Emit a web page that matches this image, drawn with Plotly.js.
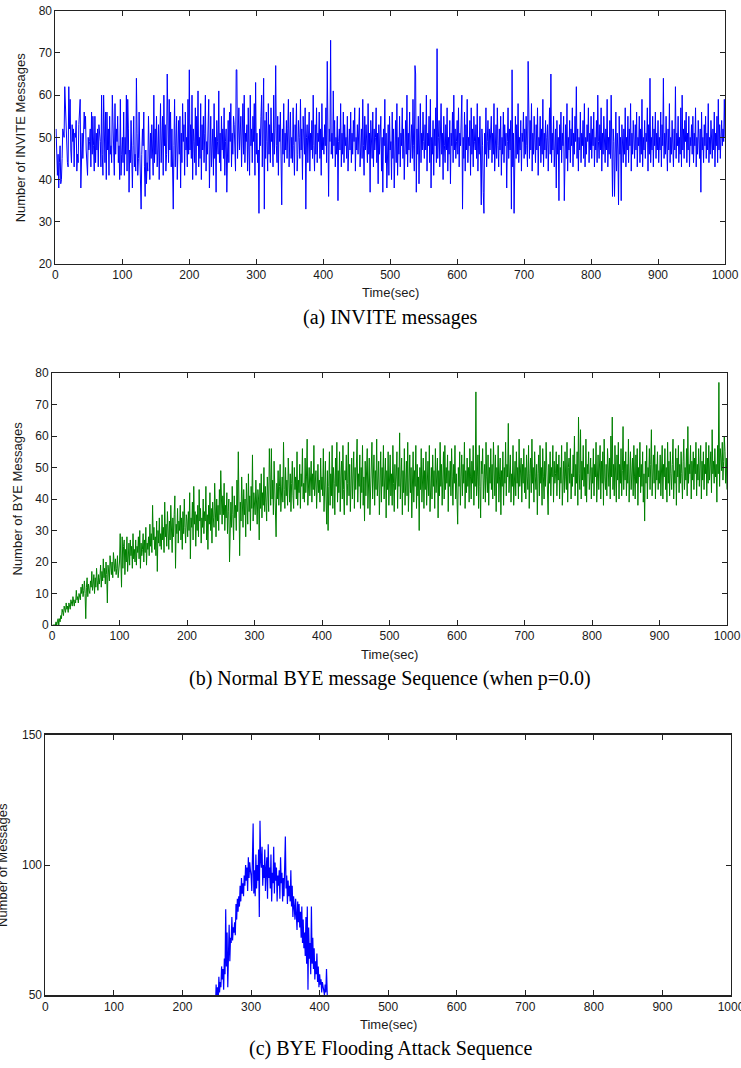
<!DOCTYPE html>
<html>
<head>
<meta charset="utf-8">
<script src="https://cdn.plot.ly/plotly-3.0.1.min.js"></script>
<style>html,body{margin:0;padding:0;background:#fff;}#chart{width:741px;height:1068px;}</style>
</head>
<body>
<div id="chart"></div>
<script>
// ---- Data (one value per second) ----
const inviteCounts = [
52,47,41,46,38,44,48,39,40,45,52,51,50,62,57,55,49,44,43,62,52,59,47,44,53,49,52,43,51,50,54,42,46,44,53,58,59,38,49,51,45,53,56,52,55,47,44,41,50,47,
49,52,43,56,46,55,48,42,55,44,51,47,52,43,53,51,49,43,60,46,41,60,51,44,56,40,56,47,52,41,55,46,48,44,60,53,43,41,58,46,52,49,55,44,48,40,59,41,46,50,
44,56,41,50,46,60,42,59,52,37,47,44,54,39,38,48,55,43,46,42,64,51,41,45,56,47,38,33,46,52,48,56,43,36,47,39,44,42,55,48,40,51,45,53,49,41,60,44,52,46,
55,43,47,53,40,46,58,44,49,55,41,60,48,53,42,46,65,51,44,59,47,56,43,52,45,33,48,59,43,52,55,40,47,54,46,55,38,51,44,58,49,53,41,56,47,50,43,59,46,66,
47,53,45,60,40,52,49,44,57,41,55,48,61,43,50,45,58,40,53,47,55,44,51,60,42,49,46,53,59,38,48,55,43,47,52,41,58,45,50,37,54,49,46,61,44,51,42,55,47,52,
45,57,41,49,52,37,47,54,44,56,49,58,43,51,46,55,53,48,42,66,66,45,53,57,47,50,55,43,52,58,46,60,44,51,49,53,42,57,47,41,60,48,52,44,55,49,58,41,63,46,
51,44,47,32,52,48,55,60,43,50,64,33,54,45,56,49,42,58,46,53,44,57,49,51,43,60,46,52,67,48,44,55,41,53,49,56,43,34,52,46,58,44,51,47,54,45,52,59,43,50,
56,45,50,44,57,48,41,53,49,58,42,46,54,50,45,59,47,52,40,55,48,46,57,33,50,53,44,49,56,42,51,47,54,45,60,48,42,53,46,57,44,51,49,56,45,52,41,58,47,50,
46,53,48,57,44,68,45,36,52,49,73,46,51,45,61,48,54,43,50,46,55,35,49,52,47,58,43,51,46,56,44,53,48,50,45,55,42,49,52,47,56,44,51,46,54,49,57,42,50,47,
53,46,50,57,43,49,52,45,59,48,41,55,47,53,50,44,58,46,51,37,54,48,45,56,43,52,47,50,57,44,51,39,53,46,49,55,42,50,37,52,48,59,44,51,38,46,53,41,55,47,
49,40,56,45,52,38,47,54,44,58,41,50,46,55,43,51,48,57,45,52,40,49,54,46,60,43,51,47,56,44,50,53,45,59,48,42,67,65,37,52,46,55,39,50,58,44,51,47,56,49,
45,53,47,60,42,51,48,55,44,59,38,50,46,54,41,52,48,57,44,71,45,50,54,43,49,58,46,51,40,55,48,44,53,47,57,42,50,46,54,39,51,48,56,44,60,47,52,45,49,54,
46,57,43,51,48,55,60,33,50,45,56,42,53,47,59,44,50,48,54,41,57,46,52,43,55,49,47,53,45,58,42,50,46,55,44,34,52,48,37,32,51,46,57,43,49,54,45,52,47,50,
55,44,51,46,58,42,49,53,45,57,48,43,52,47,55,41,50,46,56,44,53,48,51,38,49,57,45,52,47,54,33,66,43,51,32,48,55,45,53,46,58,44,50,47,54,42,51,49,56,45,
52,46,55,48,43,68,50,45,54,47,58,42,51,46,55,49,44,53,47,57,41,50,48,55,44,52,46,59,43,51,47,54,45,50,53,42,48,57,46,65,44,51,47,55,43,49,52,38,54,46,
50,35,53,47,56,44,51,48,55,35,49,53,45,58,42,50,47,54,44,52,48,57,43,51,46,55,49,62,45,52,42,50,47,56,44,51,48,54,45,58,43,50,46,53,49,57,44,51,47,55,
45,52,48,56,43,50,47,54,44,60,49,45,53,47,57,42,51,46,55,48,44,52,47,59,43,50,46,54,45,60,47,36,52,49,36,45,56,42,51,47,34,55,46,50,35,53,48,44,52,46,
57,43,50,47,55,44,52,48,58,42,51,46,54,49,45,53,47,56,43,50,48,55,44,52,46,59,43,50,47,54,45,51,49,57,42,53,46,64,44,50,47,55,43,52,48,56,45,51,47,54,
44,50,47,56,43,53,48,64,45,51,46,55,49,42,52,47,58,44,50,46,54,48,43,52,47,62,45,51,48,55,44,50,46,57,43,60,47,52,45,54,49,56,44,51,47,55,43,50,48,53,
46,55,44,51,48,57,43,50,46,54,49,45,52,37,56,47,50,44,53,48,55,45,51,47,58,44,50,46,54,49,45,52,47,56,43,51,48,55,44,59,47,53,45,50,54,48,52,49,59,50
];

const byeCounts = [
0,0,0,0,0,1,0,1,2,0,2,1,3,2,5,4,3,6,5,4,7,5,6,4,7,6,5,8,7,6,9,7,6,8,7,11,8,9,7,10,9,8,12,10,13,9,11,14,10,2,
12,15,9,13,11,10,14,12,17,11,13,16,10,15,12,18,14,11,16,13,15,19,12,17,14,21,15,18,13,20,16,7,19,17,14,22,18,16,20,15,23,19,17,21,16,18,22,15,19,20,
29,22,12,28,18,25,27,16,24,20,28,17,23,26,19,27,22,25,18,29,21,24,20,27,19,25,23,28,21,30,18,26,22,24,29,20,27,23,31,19,26,24,28,22,32,25,29,23,38,27,
31,24,28,22,33,17,30,26,34,25,29,24,35,27,31,23,39,28,32,25,36,29,24,33,27,38,30,23,34,28,35,41,18,32,29,37,26,33,30,38,27,34,24,36,29,40,31,26,35,33,
28,36,30,42,21,34,31,39,27,44,32,36,25,35,30,38,28,43,33,37,26,34,31,40,29,36,33,44,27,35,24,38,32,42,30,37,26,39,34,31,45,36,28,40,33,38,30,43,35,49,
37,32,41,35,45,30,38,34,42,29,36,40,20,33,39,31,44,35,27,41,34,38,30,46,36,55,42,22,39,33,47,37,31,43,35,40,28,45,38,32,48,36,41,30,44,37,54,33,42,39,
35,46,38,32,43,40,27,45,37,48,34,42,38,50,36,44,39,33,47,41,36,56,43,38,56,40,46,35,52,42,37,28,45,40,49,38,44,51,36,42,47,39,58,43,37,50,41,46,38,53,
44,39,48,36,45,52,41,37,50,43,47,40,55,38,46,42,51,37,48,44,56,40,45,39,53,42,47,59,38,44,50,41,46,52,39,48,43,57,41,45,49,37,44,51,42,46,39,53,43,47,
41,56,36,47,52,40,32,49,30,44,55,38,48,41,57,37,50,45,35,53,44,58,39,49,42,55,36,47,52,40,57,43,35,49,46,54,38,45,58,41,51,36,48,53,40,46,55,37,50,43,
52,59,39,48,44,54,37,50,42,57,38,47,33,52,41,49,56,37,46,53,35,45,51,58,40,47,54,38,49,43,59,41,46,52,35,48,55,39,50,44,57,40,47,53,34,49,43,55,38,46,
54,41,48,38,57,45,36,51,43,47,55,37,50,44,61,40,48,53,35,49,42,56,38,46,52,41,58,36,47,54,42,50,34,46,55,39,49,44,57,37,51,41,47,30,50,43,56,39,46,53,
37,49,43,55,38,47,52,41,57,36,46,50,40,54,44,49,37,56,42,47,53,34,49,41,58,44,51,38,47,55,40,57,43,50,45,54,36,49,44,52,41,56,47,38,51,45,57,40,48,42,
32,50,44,55,38,47,54,41,51,45,58,37,49,42,53,44,50,39,56,47,40,52,45,57,38,49,44,74,41,47,54,37,57,44,34,52,48,56,40,46,51,39,58,47,42,54,38,50,45,56,
43,51,40,58,48,41,54,36,50,45,57,39,47,53,35,49,44,55,38,50,45,58,41,51,47,64,42,49,54,39,48,44,57,38,47,52,41,55,45,50,40,59,44,48,53,39,51,45,56,42,
50,40,54,47,43,57,37,48,53,42,59,45,50,39,55,47,43,51,35,48,54,41,57,45,50,38,56,47,40,52,44,58,48,39,35,51,45,55,41,50,47,57,39,52,45,48,55,41,51,46,
54,40,50,45,57,38,48,52,42,55,47,43,58,39,50,53,45,56,40,48,44,54,47,60,41,51,45,55,38,66,48,43,62,40,52,46,57,44,50,41,59,39,51,48,55,43,47,53,40,50,
45,56,41,51,47,58,39,50,54,43,48,57,40,52,45,55,38,59,47,43,51,41,56,48,44,53,40,60,47,66,43,51,41,57,48,39,54,46,58,40,51,45,56,41,49,63,43,52,46,55,
41,51,45,59,39,50,55,43,48,53,41,57,47,40,54,45,56,38,50,47,58,42,51,44,55,39,48,33,52,45,57,40,50,47,56,43,51,62,41,48,54,45,57,40,51,46,55,43,49,45,
54,41,48,57,40,51,47,56,43,50,39,58,45,52,41,55,48,43,51,59,40,49,45,56,38,53,47,57,42,51,45,55,48,40,52,59,43,50,46,56,41,63,45,51,48,57,40,52,46,55,
43,53,48,58,41,51,46,56,44,49,57,40,52,46,55,43,51,48,58,41,53,45,57,46,49,55,42,62,48,52,45,56,47,51,39,57,48,77,44,56,53,49,58,46,52,60,55,45,53,43
];

const attackStartSec = 248;
const attackCounts = [
44,54,48,53,46,57,51,55,53,61,56,60,52,64,58,83,61,74,53,68,77,63,72,70,80,71,76,74,78,73,85,79,87,82,88,84,92,86,95,89,93,88,96,92,100,94,99,90,103,95,101,98,
96,90,101,116,89,98,88,104,91,100,94,106,80,117,102,99,107,92,100,95,106,90,98,103,87,108,95,99,91,104,86,97,93,107,89,101,94,99,86,96,92,98,87,103,93,97,86,95,88,101,111,91,96,85,94,88,92,86,98,84,
92,80,88,84,79,87,83,75,86,78,85,76,82,72,84,70,79,68,74,65,80,62,84,52,76,64,70,58,84,62,72,60,68,56,63,58,66,55,61,53,58,54,56,51,55,53,52,50,54,51,60,47,42
];

const timeTicks = [0,100,200,300,400,500,600,700,800,900,1000];
const inviteTicks = [20,30,40,50,60,70,80];
const byeTicks = [0,10,20,30,40,50,60,70,80];
const attackTicks = [50,100,150];

const captions = ['(a) INVITE messages', '(b) Normal BYE message Sequence (when p=0.0)', '(c) BYE Flooding Attack Sequence'];
const yTitles = ['Number of INVITE Messages', 'Number of BYE Messages', 'Number of Messages'];
const xTitle = 'Time(sec)';

// ---- Build ----
const W = 741, H = 1068;
const px = v => v / W;
const py = v => 1 - v / H;

const inviteTimes = inviteCounts.map((_, i) => i + 1);
const byeTimes = byeCounts.map((_, i) => i + 1);
const attackTimes = attackCounts.map((_, i) => attackStartSec + i);

const traces = [
  {x: inviteTimes, y: inviteCounts, type: 'scatter', mode: 'lines', line: {color: '#0000ff', width: 1}, xaxis: 'x', yaxis: 'y', hoverinfo: 'skip'},
  {x: byeTimes, y: byeCounts, type: 'scatter', mode: 'lines', line: {color: '#008000', width: 1}, xaxis: 'x2', yaxis: 'y2', hoverinfo: 'skip'},
  {x: attackTimes, y: attackCounts, type: 'scatter', mode: 'lines', line: {color: '#0000ff', width: 1.2}, xaxis: 'x3', yaxis: 'y3', hoverinfo: 'skip'}
];

const tickFont = {family: 'Liberation Sans, Arial, sans-serif', size: 12, color: '#1a1a1a'};
function xAx(anchor, l, r, lw) {
  return {anchor: anchor, domain: [px(l), px(r)], range: [0, 1000], tickvals: timeTicks, ticktext: timeTicks.map(String),
    ticks: 'inside', ticklen: 5, tickcolor: '#222', showline: true, linecolor: '#222', linewidth: lw || 1, mirror: 'ticks',
    showgrid: false, zeroline: false, tickfont: tickFont, automargin: false, fixedrange: true, ticklabeloverflow: 'allow'};
}
function yAx(anchor, t, b, range, vals, lw) {
  return {anchor: anchor, domain: [py(b), py(t)], range: range, tickvals: vals, ticktext: vals.map(String),
    ticks: 'inside', ticklen: 5, tickcolor: '#222', showline: true, linecolor: '#222', linewidth: lw || 1, mirror: 'ticks',
    showgrid: false, zeroline: false, tickfont: tickFont, automargin: false, fixedrange: true};
}

const P = [
  {l: 55.4, r: 725, t: 10.7, b: 264},
  {l: 52, r: 727, t: 373, b: 625},
  {l: 45.4, r: 731, t: 735, b: 995}
];

const annFontTitle = {family: 'Liberation Sans, Arial, sans-serif', size: 13, color: '#1a1a1a'};
const annFontCap = {family: 'Liberation Serif, Times New Roman, serif', size: 20, color: '#000'};
const yTitleX = [20, 16.5, 2];
const annotations = [];
P.forEach((p, i) => {
  annotations.push({xref: 'paper', yref: 'paper', x: px((p.l + p.r) / 2), y: py(p.b + 29), text: xTitle, showarrow: false,
    xanchor: 'center', yanchor: 'middle', font: annFontTitle});
  annotations.push({xref: 'paper', yref: 'paper', x: px(yTitleX[i]), y: py((p.t + p.b) / 2), text: yTitles[i], showarrow: false,
    textangle: -90, xanchor: 'center', yanchor: 'middle', font: annFontTitle});
  annotations.push({xref: 'paper', yref: 'paper', x: px(390), y: py(p.b + 53), text: captions[i], showarrow: false,
    xanchor: 'center', yanchor: 'middle', font: annFontCap});
});

const layout = {
  width: W, height: H, margin: {l: 0, r: 0, t: 0, b: 0, pad: 0},
  paper_bgcolor: '#fff', plot_bgcolor: '#fff', showlegend: false,
  xaxis: xAx('y', P[0].l, P[0].r),
  yaxis: yAx('x', P[0].t, P[0].b, [20, 80], inviteTicks),
  xaxis2: xAx('y2', P[1].l, P[1].r),
  yaxis2: yAx('x2', P[1].t, P[1].b, [0, 80], byeTicks),
  xaxis3: xAx('y3', P[2].l, P[2].r, 2),
  yaxis3: yAx('x3', P[2].t, P[2].b, [50, 150], attackTicks),
  annotations: annotations
};

Plotly.newPlot('chart', traces, layout, {staticPlot: true, displayModeBar: false});
</script>
</body>
</html>
